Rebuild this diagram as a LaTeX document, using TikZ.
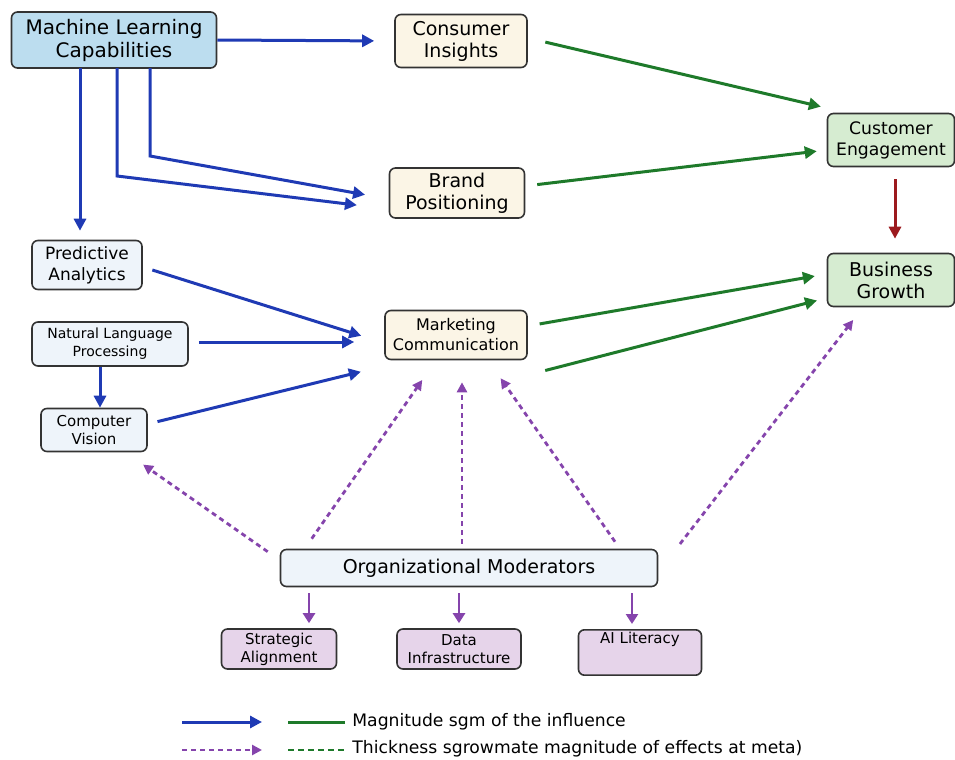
\documentclass[tikz,border=0pt]{standalone}
\usepackage{fontspec}
\setmainfont{DejaVu Sans}
\usetikzlibrary{arrows.meta}
\definecolor{mlblue}{HTML}{BCDDEF}
\definecolor{cream}{HTML}{FBF5E6}
\definecolor{mint}{HTML}{D6ECD1}
\definecolor{pale}{HTML}{EEF4FA}
\definecolor{lilac}{HTML}{E6D4EA}
\definecolor{arrblue}{HTML}{1F3AB4}
\definecolor{arrgreen}{HTML}{1E7A2A}
\definecolor{arrred}{HTML}{9C1A1E}
\definecolor{arrpurple}{HTML}{8544AC}
\tikzset{
  box/.style={draw=black!80, line width=0.8pt, rounded corners=3pt, align=center, inner sep=1pt},
  bluearrow/.style={draw=arrblue, line width=1.5pt, -{Triangle[length=6pt,width=6pt]}},
  greenarrow/.style={draw=arrgreen, line width=1.5pt, -{Triangle[length=6pt,width=6pt]}},
  redarrow/.style={draw=arrred, line width=1.5pt, -{Triangle[length=6pt,width=6pt]}},
  modarrow/.style={draw=arrpurple, line width=1.4pt, dash pattern=on 2.5pt off 2pt, -{Triangle[length=5pt,width=5pt]}},
  subarrow/.style={draw=arrpurple, line width=1.4pt, -{Triangle[length=5pt,width=6pt]}}
}
\begin{document}
\begin{tikzpicture}[x=0.5pt,y=-0.5pt]
\useasboundingbox (0,0) rectangle (955,760);
{\fontsize{9.5}{11}\selectfont

% Drawing the capability nodes
\node [box, fill=mlblue, minimum width=102.5pt, minimum height=28pt, font=\fontsize{10}{11.5}\selectfont] (ml) at (114,40) {Machine Learning\\Capabilities};
\node [box, fill=pale, minimum width=55pt, minimum height=24.5pt, font=\fontsize{8.5}{10.5}\selectfont] (pred) at (87,265) {Predictive\\Analytics};
\node [box, fill=pale, minimum width=78pt, minimum height=22pt, font=\fontsize{7}{9}\selectfont] (nlp) at (110,344) {Natural Language\\Processing};
\node [box, fill=pale, minimum width=53pt, minimum height=21.5pt, font=\fontsize{7.5}{9}\selectfont] (cv) at (94,430) {Computer\\Vision};

% Drawing the marketing nodes
\node [box, fill=cream, minimum width=66pt, minimum height=26.5pt] (ci) at (461,41) {Consumer\\Insights};
\node [box, fill=cream, minimum width=67.5pt, minimum height=25pt] (bp) at (457,193) {Brand\\Positioning};
\node [box, fill=cream, minimum width=71pt, minimum height=24.5pt, font=\fontsize{8}{10}\selectfont] (mc) at (456,335) {Marketing\\Communication};

% Drawing the outcome nodes
\node [box, fill=mint, minimum width=63.5pt, minimum height=26.5pt, font=\fontsize{8.6}{10.5}\selectfont] (ce) at (891,140) {Customer\\Engagement};
\node [box, fill=mint, minimum width=63.5pt, minimum height=26.5pt, font=\fontsize{9.5}{11}\selectfont] (bg) at (891,280) {Business\\Growth};

% Drawing the moderators
\node [box, fill=pale, minimum width=188.5pt, minimum height=18.5pt, font=\fontsize{9.5}{11}\selectfont] (org) at (469,568) {Organizational Moderators};
\node [box, fill=lilac, minimum width=57.5pt, minimum height=20pt, font=\fontsize{7.5}{9}\selectfont] (sa) at (279,649) {Strategic\\Alignment};
\node [box, fill=lilac, minimum width=62pt, minimum height=20pt, font=\fontsize{7.5}{9}\selectfont] (di) at (459,649) {Data\\Infrastructure};
\node [box, fill=lilac, minimum width=61.5pt, minimum height=20pt, font=\fontsize{7.5}{9}\selectfont, anchor=north] (ai) at (640,629) {AI Literacy\\[6pt]\mbox{}};

% Drawing the blue arrows
\coordinate (mla) at (80,68);
\coordinate (mlb) at (117,68);
\coordinate (mlc) at (150,68);
\coordinate (bendb) at (117,176);
\coordinate (bendc) at (150,156);
\draw [bluearrow, shorten >=10pt] (ml.east) -- (ci.west);
\draw [bluearrow, shorten >=4.5pt] (mla) -- (mla |- pred.north);
\draw [bluearrow, shorten >=16pt] (mlb) -- (bendb) -- ([yshift=-8pt]bp.west);
\draw [bluearrow, shorten >=12pt] (mlc) -- (bendc) -- ([yshift=-3pt]bp.west);
\draw [bluearrow, shorten <=5pt, shorten >=12pt] ([yshift=-1pt]pred.east) -- ([yshift=-4pt]mc.west);
\draw [bluearrow, shorten <=5pt, shorten >=15pt] ([yshift=1pt]nlp.east) -- ([yshift=-3.5pt]mc.west);
\draw [bluearrow, shorten <=5pt, shorten >=12pt] ([yshift=3pt]cv.east) -- ([yshift=-15.5pt]mc.west);
\draw [bluearrow] ([xshift=-5pt]nlp.south) -- ([xshift=-5pt]nlp.south |- cv.north);

% Drawing the green and red arrows
\draw [greenarrow, shorten <=9pt, shorten >=3pt] ([yshift=1.5pt]ci.east) -- ([yshift=16pt]ce.west);
\draw [greenarrow, shorten <=6pt, shorten >=5pt] ([yshift=3.5pt]bp.east) -- ([yshift=-5pt]ce.west);
\draw [greenarrow, shorten <=6pt, shorten >=6pt] ([yshift=4.5pt]mc.east) -- ([yshift=3pt]bg.west);
\draw [greenarrow, shorten <=9pt, shorten >=5pt] ([yshift=-20pt]mc.east) -- ([yshift=-9pt]bg.west);
\draw [redarrow, shorten <=6pt, shorten >=7pt] ([xshift=2pt]ce.south) -- ([xshift=2pt]bg.north);

% Drawing the moderating effects
\draw [modarrow, shorten <=0pt, shorten >=2pt] ([xshift=-6pt,yshift=-1.5pt]org.north west) -- ([xshift=-4pt,yshift=-5pt]cv.south east);
\draw [modarrow, shorten >=12pt] ([xshift=16pt,yshift=5pt]org.north west) -- ([xshift=-10pt]mc.south);
\draw [modarrow, shorten <=2.5pt, shorten >=11pt] ([xshift=-3.5pt]org.north) -- (mc.south -| {462,0});
\draw [modarrow, shorten >=11pt] ([xshift=73pt,yshift=3.5pt]org.north) -- ([xshift=16pt]mc.south);
\draw [modarrow, shorten <=3pt, shorten >=8pt] ([xshift=9pt]org.north east) -- ([xshift=-14pt]bg.south);
\draw [subarrow, shorten <=3pt, shorten >=2.5pt] (org.south -| {309,0}) -- (sa.north -| {309,0});
\draw [subarrow, shorten <=3pt, shorten >=2.5pt] (org.south -| di.north) -- (di.north);
\draw [subarrow, shorten <=3pt, shorten >=2.5pt] (org.south -| {632,0}) -- (ai.north -| {632,0});

% Drawing the legend
\coordinate (lga) at (182,722);
\coordinate (lgb) at (262,722);
\coordinate (lgc) at (288,722);
\coordinate (lgd) at (345,722);
\coordinate (lge) at (182,750);
\coordinate (lgf) at (262,750);
\coordinate (lgg) at (288,750);
\coordinate (lgh) at (345,750);
\draw [bluearrow] (lga) -- (lgb);
\draw [draw=arrgreen, line width=1.5pt] (lgc) -- (lgd);
\draw [modarrow] (lge) -- (lgf);
\draw [draw=arrgreen, line width=1.4pt, dash pattern=on 3pt off 2pt] (lgg) -- (lgh);
\node [anchor=west, inner sep=0pt, font=\fontsize{8.6}{10}\selectfont] (lgtop) at (352,722) {Magnitude sgm of the influence};
\node [anchor=west, inner sep=0pt, font=\fontsize{8.6}{10}\selectfont] (lgbot) at (352,749) {Thickness sgrowmate magnitude of effects at meta)};
}
\end{tikzpicture}
\end{document}
